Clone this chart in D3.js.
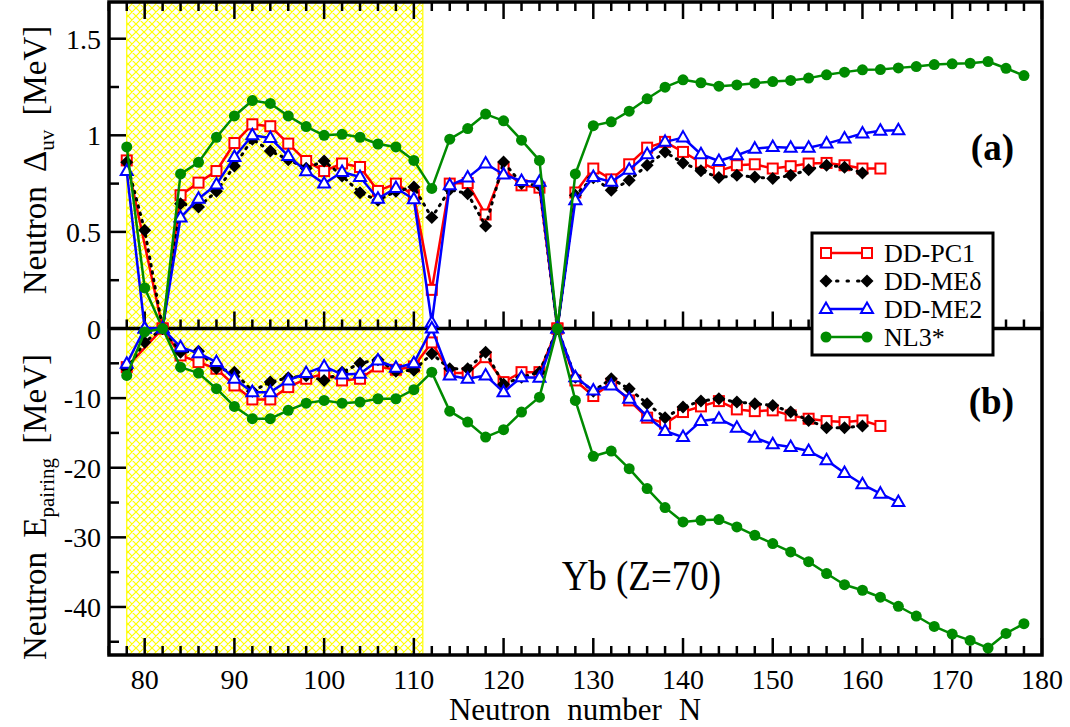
<!DOCTYPE html>
<html>
<head>
<meta charset="utf-8">
<script src="https://cdn.jsdelivr.net/npm/d3@7"></script>
<style>
  body { margin: 0; background: #fff; }
  text { font-family: "Liberation Serif", "DejaVu Serif", serif; fill: #000; }
</style>
</head>
<body>
<svg width="1070" height="727"></svg>
<script>
// neutron numbers (even N), shared by all the sets
var neutronN = [78, 80, 82, 84, 86, 88, 90, 92, 94, 96, 98, 100, 102, 104, 106, 108, 110,
  112, 114, 116, 118, 120, 122, 124, 126, 128, 130, 132, 134, 136, 138, 140, 142, 144,
  146, 148, 150, 152, 154, 156, 158, 160, 162, 164, 166, 168, 170, 172, 174, 176, 178];

// (a) neutron Delta_uv [MeV]
var uvPC1 = [0.87, null, 0, 0.69, 0.755, 0.815, 0.96, 1.057, 1.047, 0.957, 0.867, 0.815, 0.854,
  0.836, 0.712, 0.75, 0.69, 0.2, 0.75, 0.753, 0.59, 0.828, 0.741, 0.729, 0, 0.704, 0.828, 0.772,
  0.85, 0.936, 0.966, 0.914, 0.859, 0.816, 0.845, 0.85, 0.828, 0.84, 0.854, 0.857, 0.845, 0.828, 0.828];
var uvMEd = [0.86, 0.508, 0, 0.646, 0.629, 0.71, 0.841, 0.98, 0.919, 0.874, 0.83, 0.867, 0.79,
  0.703, 0.664, 0.71, 0.732, 0.574, 0.719, 0.698, 0.53, 0.862, 0.75, 0.74, 0, 0.69, 0.78, 0.715,
  0.767, 0.845, 0.914, 0.857, 0.816, 0.781, 0.793, 0.784, 0.776, 0.793, 0.822, 0.845, 0.835, 0.805];
var uvME2 = [0.815, 0, 0, 0.574, 0.672, 0.745, 0.888, 1.0, 0.986, 0.893, 0.814, 0.75, 0.81,
  0.784, 0.672, 0.727, 0.669, 0.03, 0.741, 0.781, 0.854, 0.797, 0.764, 0.759, 0, 0.664, 0.784,
  0.759, 0.822, 0.902, 0.966, 0.988, 0.902, 0.867, 0.897, 0.931, 0.94, 0.936, 0.936, 0.957,
  0.983, 1.009, 1.023, 1.026];
var uvNL3 = [0.94, 0.21, 0, 0.80, 0.86, 0.99, 1.10, 1.18, 1.165, 1.10, 1.045, 1.0, 1.005, 0.99,
  0.955, 0.94, 0.87, 0.725, 0.98, 1.035, 1.11, 1.075, 0.975, 0.87, 0, 0.80, 1.05, 1.07, 1.125,
  1.189, 1.249, 1.287, 1.272, 1.254, 1.261, 1.270, 1.278, 1.284, 1.296, 1.313, 1.327, 1.339,
  1.340, 1.349, 1.356, 1.366, 1.370, 1.373, 1.382, 1.347, 1.309];

// (b) neutron pairing energy [MeV]
var epPC1 = [-5.55, null, 0, -3.87, -4.83, -5.78, -8.18, -10.19, -10.19, -8.42, -7.22, -6.5,
  -7.46, -7.22, -5.45, -5.93, -5.45, -2.0, -6.41, -6.41, -4.12, -7.7, -6.27, -6.27, 0, -7.46,
  -9.7, -7.93, -10.33, -12.81, -13.67, -12.0, -11.19, -10.43, -11.62, -11.87, -11.76, -12.48,
  -12.96, -13.3, -13.44, -13.2, -14.0];
var epMEd = [-5.8, -1.97, 0, -3.4, -3.26, -5.7, -6.27, -9.0, -7.7, -7.07, -6.8, -7.46, -6.3,
  -4.98, -4.49, -6.13, -6.0, -3.63, -5.78, -5.78, -3.4, -8.0, -7.0, -6.27, 0, -6.99, -9.0,
  -7.22, -8.65, -10.8, -12.81, -11.29, -10.43, -10.09, -10.57, -10.8, -11.05, -12.0, -13.2,
  -14.25, -14.25, -14.0];
var epME2 = [-5.06, 0, 0, -2.68, -3.54, -4.83, -7.22, -9.14, -9.14, -7.46, -6.41, -5.45, -6.6,
  -6.5, -4.59, -5.64, -4.98, 0, -6.74, -7.22, -6.74, -9.14, -6.99, -7.07, 0, -7.0, -8.9, -8.18,
  -10.09, -12.63, -14.73, -15.6, -13.3, -12.96, -14.25, -15.68, -16.64, -17.03, -17.6, -18.94,
  -20.76, -22.38, -23.72, -24.93];
var epNL3 = [-6.74, -0.5, 0, -5.55, -6.41, -8.65, -11.2, -12.96, -12.96, -11.76, -10.72, -10.33,
  -10.72, -10.57, -10.09, -10.09, -8.79, -6.27, -11.87, -13.44, -15.6, -14.53, -12.0, -9.86, 0,
  -10.33, -18.36, -17.6, -20.13, -23.0, -25.72, -27.79, -27.55, -27.45, -28.5, -29.7, -30.9,
  -32.1, -33.5, -35.2, -36.8, -37.6, -38.6, -39.9, -41.3, -42.8, -43.9, -44.8, -45.9, -43.8, -42.4];

var seriesNames = ["DD-PC1", "DD-ME\u03b4", "DD-ME2", "NL3*"];
var xTicks = [80, 90, 100, 110, 120, 130, 140, 150, 160, 170, 180];
var topTicks = [0, 0.5, 1, 1.5];
var botTicks = [-10, -20, -30, -40];
var shadeN = [78, 111];

var drawChart = function() {
  var svg = d3.select("svg");
  var fL = 109, fR = 1042, fT = 2, fM = 328.5, fB = 655;

  var x = d3.scaleLinear().domain([76, 180]).range([108.8, 1041.9]);
  var yTop = d3.scaleLinear().domain([0, 1.69]).range([fM, fT]);
  var yBot = d3.scaleLinear().domain([0, -46.9]).range([fM, fB]);

  // yellow cross-hatch
  var pat = svg.append("defs").append("pattern").attr("id", "hatch")
      .attr("patternUnits", "userSpaceOnUse").attr("width", 8).attr("height", 8);
  pat.append("rect").attr("width", 8).attr("height", 8).attr("fill", "#fff");
  pat.append("path").attr("d", "M0,0L8,8M8,0L0,8M-1,7L1,9M7,-1L9,1M-1,1L1,-1M7,9L9,7")
      .attr("stroke", "#ffff00").attr("stroke-width", 1.2);

  svg.append("rect")
      .attr("x", x(shadeN[0])).attr("y", fT)
      .attr("width", x(shadeN[1]) - x(shadeN[0])).attr("height", fB - fT)
      .attr("fill", "url(#hatch)").attr("stroke", "#ffff00").attr("stroke-width", 1.2);

  // ticks, pointing inwards
  var tk = svg.append("g").attr("stroke", "#000").attr("stroke-width", 2.5);
  d3.range(76, 181, 2).forEach(function(n) {
    var len = n % 10 === 0 ? 17 : 9;
    tk.append("line").attr("x1", x(n)).attr("x2", x(n)).attr("y1", fT).attr("y2", fT + len);
    tk.append("line").attr("x1", x(n)).attr("x2", x(n)).attr("y1", fM).attr("y2", fM - len);
    tk.append("line").attr("x1", x(n)).attr("x2", x(n)).attr("y1", fB).attr("y2", fB - len);
  });
  d3.range(0.25, 1.7, 0.25).forEach(function(v) {
    var len = Math.abs(v * 2 - Math.round(v * 2)) < 1e-6 ? 17 : 10;
    tk.append("line").attr("x1", fL).attr("x2", fL + len).attr("y1", yTop(v)).attr("y2", yTop(v));
  });
  d3.range(-5, -46, -5).forEach(function(v) {
    var len = v % 10 === 0 ? 17 : 10;
    tk.append("line").attr("x1", fL).attr("x2", fL + len).attr("y1", yBot(v)).attr("y2", yBot(v));
  });

  // frame + middle line
  svg.append("rect").attr("x", fL).attr("y", fT).attr("width", fR - fL).attr("height", fB - fT)
      .attr("fill", "none").attr("stroke", "#000").attr("stroke-width", 3.5);
  svg.append("line").attr("x1", fL).attr("x2", fR).attr("y1", fM).attr("y2", fM)
      .attr("stroke", "#000").attr("stroke-width", 3.5);

  // tick labels
  svg.selectAll(".ytl").data(topTicks).enter().append("text")
      .attr("x", 101).attr("y", function(d) { return yTop(d) + 10; })
      .attr("text-anchor", "end").attr("font-size", 28)
      .text(function(d) { return d; });
  svg.selectAll(".ybl").data(botTicks).enter().append("text")
      .attr("x", 101).attr("y", function(d) { return yBot(d) + 10; })
      .attr("text-anchor", "end").attr("font-size", 28)
      .text(function(d) { return d; });
  svg.selectAll(".xl").data(xTicks).enter().append("text")
      .attr("x", function(d) { return x(d); }).attr("y", 689)
      .attr("text-anchor", "middle").attr("font-size", 28)
      .text(function(d) { return d; });

  svg.append("text").attr("x", 575).attr("y", 720).attr("text-anchor", "middle")
      .attr("font-size", 31).attr("word-spacing", 9).text("Neutron number N");

  var t1 = svg.append("text").attr("transform", "translate(46,160) rotate(-90)")
      .attr("text-anchor", "middle").attr("font-size", 33).attr("word-spacing", 6);
  t1.append("tspan").text("Neutron  \u0394");
  t1.append("tspan").attr("font-size", 21).attr("dy", 8).text("uv");
  t1.append("tspan").attr("dy", -8).text(" [MeV]");

  var t2 = svg.append("text").attr("transform", "translate(46,507) rotate(-90)")
      .attr("text-anchor", "middle").attr("font-size", 33).attr("word-spacing", 6);
  t2.append("tspan").text("Neutron E");
  t2.append("tspan").attr("font-size", 21).attr("dy", 8).text("pairing");
  t2.append("tspan").attr("dy", -8).text(" [MeV]");

  svg.append("text").attr("x", 1014).attr("y", 160).attr("text-anchor", "end")
      .attr("font-size", 37).attr("font-weight", "bold").text("(a)");
  svg.append("text").attr("x", 1014).attr("y", 414).attr("text-anchor", "end")
      .attr("font-size", 37).attr("font-weight", "bold").text("(b)");
  svg.append("text").attr("transform", "translate(721,590) scale(0.88,1)")
      .attr("text-anchor", "end").attr("font-size", 42).text("Yb (Z=70)");

  var styles = [
    {color: "#ff0000", dash: null, sym: "square"},
    {color: "#000000", dash: "1.5,6", sym: "diamond"},
    {color: "#0000ff", dash: null, sym: "triangle"},
    {color: "#008b00", dash: null, sym: "circle"}
  ];

  var marker = function(g, st, px, py) {
    if (st.sym === "square") {
      g.append("rect").attr("x", px - 5).attr("y", py - 5).attr("width", 10).attr("height", 10)
          .attr("fill", "#fff").attr("stroke", st.color).attr("stroke-width", 2);
    } else if (st.sym === "diamond") {
      g.append("path").attr("d", "M" + px + "," + (py - 6.5) + "l6.5,6.5l-6.5,6.5l-6.5,-6.5z")
          .attr("fill", "#000");
    } else if (st.sym === "triangle") {
      g.append("path").attr("d", "M" + px + "," + (py - 6.5) + "l6,10.5l-12,0z")
          .attr("fill", "#fff").attr("stroke", st.color).attr("stroke-width", 2);
    } else {
      g.append("circle").attr("cx", px).attr("cy", py).attr("r", 5.5).attr("fill", st.color);
    }
  };

  var drawSeries = function(values, y, st) {
    var pts = [];
    values.forEach(function(v, i) { if (v !== null) pts.push([neutronN[i], v]); });
    var g = svg.append("g");
    var line = d3.line().x(function(d) { return x(d[0]); }).y(function(d) { return y(d[1]); });
    g.append("path").attr("d", line(pts)).attr("fill", "none")
        .attr("stroke", st.color).attr("stroke-width", st.dash ? 3 : 2.5)
        .attr("stroke-dasharray", st.dash).attr("stroke-linecap", st.dash ? "round" : "butt")
        .attr("stroke-linejoin", "round");
    pts.forEach(function(d) { marker(g, st, x(d[0]), y(d[1])); });
  };

  [uvPC1, uvMEd, uvME2, uvNL3].forEach(function(s, i) { drawSeries(s, yTop, styles[i]); });
  [epPC1, epMEd, epME2, epNL3].forEach(function(s, i) { drawSeries(s, yBot, styles[i]); });

  // legend
  var lg = svg.append("g");
  lg.append("rect").attr("x", 812).attr("y", 233).attr("width", 181).attr("height", 122)
      .attr("fill", "#fff").attr("stroke", "#000").attr("stroke-width", 3);
  var rowsY = [253, 281, 309, 337];
  seriesNames.forEach(function(name, i) {
    var st = styles[i], yy = rowsY[i];
    lg.append("line").attr("x1", 826).attr("x2", 867).attr("y1", yy).attr("y2", yy)
        .attr("stroke", st.color).attr("stroke-width", st.dash ? 3 : 2.5)
        .attr("stroke-dasharray", st.dash ? "1.5,9" : null).attr("stroke-linecap", st.dash ? "round" : "butt");
    marker(lg, st, 826, yy);
    marker(lg, st, 867, yy);
    lg.append("text").attr("x", 884).attr("y", yy + 9).attr("font-size", 26).text(name);
  });
};

drawChart();
</script>
</body>
</html>
